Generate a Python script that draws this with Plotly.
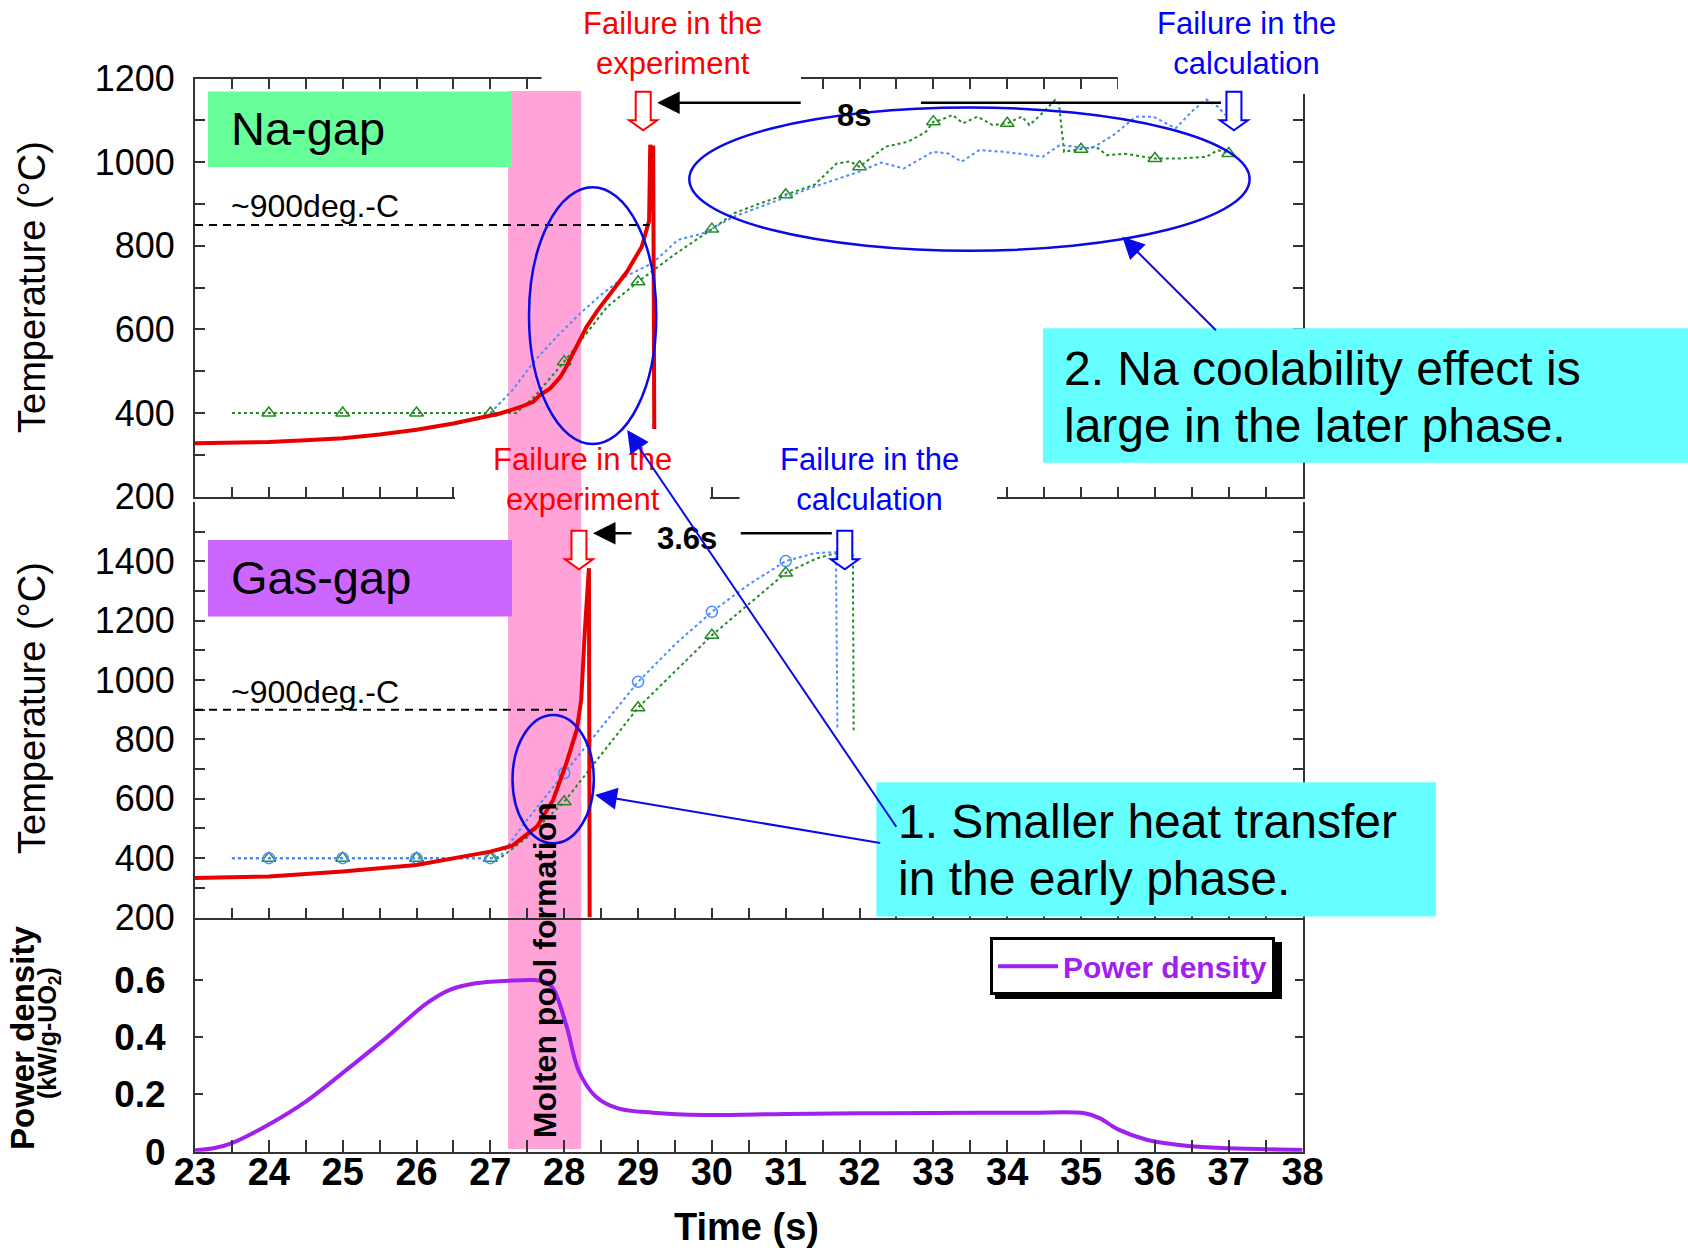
import plotly.graph_objects as go

W, H = 1688, 1250
FONT = "Liberation Sans"
AX = "#333333"

# ---------------- data ----------------
time_ticks = list(range(23, 39))
na_temp_ticks = [200, 400, 600, 800, 1000, 1200]
gas_temp_ticks = [200, 400, 600, 800, 1000, 1200, 1400]
power_ticks = [0, 0.2, 0.4, 0.6]
power_tick_text = ["0", "0.2", "0.4", "0.6"]

# Na-gap: measured temperature (experiment)
na_exp_t = [23.0, 23.5, 24.0, 24.5, 25.0, 25.5, 26.0, 26.5, 27.0, 27.13, 27.4, 27.58, 27.67,
            27.81, 27.95, 28.03, 28.12, 28.22, 28.3, 28.45, 28.65, 28.85, 29.05, 29.12, 29.15,
            29.165, 29.185, 29.205, 29.22]
na_exp_v = [328, 329, 331, 335, 340, 349, 360, 375, 395, 399, 414, 427, 443,
            459, 487, 511, 543, 575, 605, 645, 692, 738, 798, 840, 860,
            1042, 880, 1040, 362]

# Na-gap: calculation (green, triangles)
na_g_t = [23.5, 24.0, 25.0, 26.0, 27.0, 27.35, 27.6, 28.0, 28.3, 28.58, 29.0, 29.5, 30.0, 30.3,
          30.66, 31.0, 31.39, 31.69, 31.87, 32.0, 32.35, 32.66, 32.9, 33.0, 33.1, 33.26, 33.4,
          33.6, 33.8, 34.0, 34.2, 34.3, 34.45, 34.65, 34.7, 34.77, 35.0, 35.2, 35.35, 35.6,
          36.0, 36.35, 36.7, 36.85, 37.0]
na_g_v = [400, 400, 400, 400, 400, 400, 440, 523, 590, 654, 714, 780, 840, 878,
          902, 922, 946, 997, 1002, 989, 1037, 1049, 1073, 1097, 1101, 1113, 1093,
          1109, 1089, 1093, 1109, 1089, 1113, 1149, 1141, 1025, 1031, 1037, 1017, 1020,
          1009, 1009, 1013, 1029, 1021]
na_g_mark_t = [24, 25, 26, 27, 28, 29, 30, 31, 32, 33, 34, 35, 36, 37]
na_g_mark_v = [400, 400, 400, 400, 523, 714, 840, 922, 989, 1097, 1093, 1031, 1009, 1021]

# Na-gap: calculation (blue)
na_b_t = [27.0, 27.3, 27.61, 27.9, 28.22, 28.52, 28.82, 29.19, 29.54, 29.88, 30.3, 30.9, 31.38,
          31.99, 32.29, 32.6, 32.99, 33.2, 33.38, 33.62, 33.94, 34.18, 34.48, 34.71, 34.96,
          35.14, 35.44, 35.74, 35.98, 36.28, 36.52, 36.7, 36.85, 36.95]
na_b_v = [400, 455, 527, 583, 639, 686, 726, 758, 814, 830, 870, 910, 941,
          977, 999, 985, 1025, 1021, 1001, 1029, 1025, 1020, 1013, 1041, 1037,
          1033, 1065, 1109, 1109, 1081, 1125, 1150, 1133, 1113]

# Gas-gap: measured temperature (experiment)
gas_exp_t = [23.0, 24.0, 25.0, 26.0, 27.0, 27.3, 27.63, 27.85, 27.95, 28.03, 28.17, 28.23,
             28.28, 28.31, 28.335, 28.345]
gas_exp_v = [333, 338, 355, 377, 422, 442, 506, 596, 665, 720, 832, 933,
             1169, 1315, 1377, 200]

# Gas-gap: calculation (green, triangles)
gas_g_t = [23.5, 24, 25, 26, 27, 27.13, 27.5, 28, 29, 30, 31, 31.42, 31.64, 31.87, 31.91, 31.92]
gas_g_v = [400, 400, 400, 400, 400, 400, 470, 590, 907, 1151, 1361, 1410, 1425, 1431, 1420, 831]
gas_g_mark_t = [24, 25, 26, 27, 28, 29, 30, 31]
gas_g_mark_v = [400, 400, 400, 400, 590, 907, 1151, 1361]

# Gas-gap: calculation (blue, circles)
gas_b_t = [23.5, 24, 25, 26, 27, 27.13, 27.5, 28, 28.5, 29, 29.5, 30, 30.5, 31, 31.4, 31.68, 31.7]
gas_b_v = [400, 400, 400, 400, 400, 405, 530, 686, 840, 994, 1120, 1230, 1322, 1401, 1428, 1431, 831]
gas_b_mark_t = [24, 25, 26, 27, 28, 29, 30, 31]
gas_b_mark_v = [400, 400, 400, 400, 686, 994, 1230, 1401]

# Power density (kW/g-UO2)
power_t = [23.0, 23.25, 23.5, 24.0, 24.5, 25.0, 25.6, 26.15, 26.45, 26.8, 27.25, 27.6, 27.75,
           27.85, 28.03, 28.2, 28.43, 28.73, 29.2, 29.9, 31.0, 32.0, 33.0, 34.3, 35.05, 35.25,
           35.5, 35.9, 36.45, 37.0, 38.0]
power_v = [0.005, 0.012, 0.03, 0.095, 0.175, 0.275, 0.40, 0.52, 0.565, 0.588, 0.597, 0.599, 0.592,
           0.57, 0.44, 0.28, 0.192, 0.151, 0.136, 0.128, 0.132, 0.134, 0.135, 0.136, 0.134, 0.117,
           0.078, 0.041, 0.02, 0.012, 0.006]

# event times / levels
molten_pool = [27.24, 28.23]
na_fail_exp, na_fail_calc = 29.07, 37.07
gas_fail_exp, gas_fail_calc = 28.2, 31.8
na_threshold, na_threshold_span = 850, [23, 29.15]
gas_threshold, gas_threshold_span = 900, [23, 28.04]

# ---------------- layout helpers ----------------
def fx(px):
    return px / W


def fy(py):
    return 1 - py / H


X_DOM = [fx(195), fx(1302.6)]
Y1_DOM = [fy(496.7), fy(78.6)]
Y2_DOM = [fy(917.5), fy(502)]
Y3_DOM = [fy(1151.7), fy(917.5)]

RED = "#E60000"
GREEN = "#228B22"
BLUE_CALC = "#4A8CFF"
PURPLE = "#A020F0"
PINK = "#FFA3D9"
CALLOUT = "#0A0AE6"

fig = go.Figure()

# Na-gap traces
fig.add_trace(go.Scatter(x=na_g_t, y=na_g_v, mode="lines", xaxis="x", yaxis="y",
                         line=dict(color=GREEN, width=2, dash="dot"), showlegend=False))
fig.add_trace(go.Scatter(x=na_g_mark_t, y=na_g_mark_v, mode="markers", xaxis="x", yaxis="y",
                         marker=dict(symbol="triangle-up-open", size=12, color=GREEN,
                                     line=dict(width=1.5)), showlegend=False))
fig.add_trace(go.Scatter(x=na_b_t, y=na_b_v, mode="lines", xaxis="x", yaxis="y",
                         line=dict(color=BLUE_CALC, width=2, dash="dot"), showlegend=False))
fig.add_trace(go.Scatter(x=na_exp_t, y=na_exp_v, mode="lines", xaxis="x", yaxis="y",
                         line=dict(color=RED, width=4), showlegend=False))

# Gas-gap traces
fig.add_trace(go.Scatter(x=gas_g_t, y=gas_g_v, mode="lines", xaxis="x2", yaxis="y2",
                         line=dict(color=GREEN, width=2, dash="dot"), showlegend=False))
fig.add_trace(go.Scatter(x=gas_g_mark_t, y=gas_g_mark_v, mode="markers", xaxis="x2", yaxis="y2",
                         marker=dict(symbol="triangle-up-open", size=12, color=GREEN,
                                     line=dict(width=1.5)), showlegend=False))
fig.add_trace(go.Scatter(x=gas_b_t, y=gas_b_v, mode="lines", xaxis="x2", yaxis="y2",
                         line=dict(color=BLUE_CALC, width=2, dash="dot"), showlegend=False))
fig.add_trace(go.Scatter(x=gas_b_mark_t, y=gas_b_mark_v, mode="markers", xaxis="x2", yaxis="y2",
                         marker=dict(symbol="circle-open", size=11, color=BLUE_CALC,
                                     line=dict(width=1.5)), showlegend=False))
fig.add_trace(go.Scatter(x=gas_exp_t, y=gas_exp_v, mode="lines", xaxis="x2", yaxis="y2",
                         line=dict(color=RED, width=4), showlegend=False))

# Power density
fig.add_trace(go.Scatter(x=power_t, y=power_v, mode="lines", xaxis="x3", yaxis="y3",
                         name="Power density", line=dict(color=PURPLE, width=4, shape="spline"),
                         showlegend=True))

# ---------------- axes ----------------
tick_common = dict(ticks="inside", tickwidth=2, tickcolor=AX, showline=True, linecolor=AX,
                   linewidth=2, showgrid=False, zeroline=False, automargin=False)
x_minor = dict(tickmode="linear", tick0=23, dtick=0.5, ticks="inside", ticklen=10,
               tickwidth=2, tickcolor=AX, showgrid=False)
y_minor = dict(tickmode="linear", tick0=200, dtick=100, ticks="inside", ticklen=10,
               tickwidth=2, tickcolor=AX, showgrid=False)
temp_font = dict(family=FONT, size=36, color="black")

fig.update_layout(
    xaxis=dict(domain=X_DOM, anchor="y", range=[23, 38], tickvals=time_ticks, ticklen=10,
               mirror="ticks", showticklabels=False, minor=x_minor, **tick_common),
    yaxis=dict(domain=Y1_DOM, anchor="x", range=[200, 1200], tickvals=na_temp_ticks, ticklen=10,
               mirror="ticks", minor=y_minor, tickfont=temp_font, ticklabelstandoff=11,
               **tick_common),
    xaxis2=dict(domain=X_DOM, anchor="y2", range=[23, 38], tickvals=time_ticks, ticklen=10,
                mirror=False, showticklabels=False, minor=x_minor, **tick_common),
    yaxis2=dict(domain=Y2_DOM, anchor="x2", range=[200, 1600], tickvals=gas_temp_ticks,
                ticklen=10, mirror="ticks", minor=y_minor, tickfont=temp_font,
                ticklabelstandoff=11, **tick_common),
    xaxis3=dict(domain=X_DOM, anchor="y3", range=[23, 38], tickvals=time_ticks, ticklen=12,
                mirror=False, minor=dict(x_minor, ticklen=12),
                tickfont=dict(family=FONT, size=38, color="black", weight="bold"),
                ticklabelstandoff=-14, **tick_common),
    yaxis3=dict(domain=Y3_DOM, anchor="x3", range=[0, 0.8175], tickvals=power_ticks,
                ticktext=power_tick_text, ticklen=8, mirror="ticks",
                tickfont=dict(family=FONT, size=37, color="black", weight="bold"),
                ticklabelstandoff=20, **tick_common),
)

# ---------------- shapes ----------------
def rect(x0, y0, x1, y1, fill, layer="above", line=None):
    return dict(type="rect", xref="paper", yref="paper", x0=fx(x0), x1=fx(x1),
                y0=fy(y1), y1=fy(y0), fillcolor=fill, layer=layer,
                line=line if line else dict(width=0))


def ellipse(x0, y0, x1, y1):
    return dict(type="circle", xref="paper", yref="paper", x0=fx(x0), x1=fx(x1),
                y0=fy(y1), y1=fy(y0), line=dict(color=CALLOUT, width=2.5), layer="above")


def fail_arrow(t, top, color):
    shaft = top + 28.5
    tip = top + 38.5
    path = (f"M -7.5,{fy(top)} L 7.5,{fy(top)} L 7.5,{fy(shaft)} L 14,{fy(shaft)} "
            f"L 0,{fy(tip)} L -14,{fy(shaft)} L -7.5,{fy(shaft)} Z")
    return dict(type="path", xref="x", yref="paper", xsizemode="pixel", xanchor=t, path=path,
                line=dict(color=color, width=2), fillcolor="white", layer="above")


shapes = [
    # molten pool formation period
    dict(type="rect", xref="x", yref="paper", x0=molten_pool[0], x1=molten_pool[1],
         y0=fy(1149), y1=fy(91), fillcolor=PINK, line=dict(width=0), layer="below"),
    # white label backgrounds
    rect(541.5, 0, 801, 90, "white"),
    rect(1117.9, 0, W, 94, "white"),
    rect(455, 445, 710, 512, "white"),
    rect(739.5, 445, 997, 512, "white"),
    dict(type="rect", xref="x", yref="paper", x0=molten_pool[0], x1=molten_pool[1],
         y0=fy(512), y1=fy(445), fillcolor=PINK, line=dict(width=0), layer="above"),
    # panel labels and notes
    rect(208, 91.5, 512, 167, "#66FF99"),
    rect(208, 540, 512, 616.5, "#CC66FF"),
    rect(1043, 328.3, W, 462.7, "#66FFFF"),
    rect(876.4, 782.3, 1435.9, 916.5, "#66FFFF"),
    # threshold lines
    dict(type="line", xref="x", yref="y", x0=na_threshold_span[0], x1=na_threshold_span[1],
         y0=na_threshold, y1=na_threshold, line=dict(color="black", width=2, dash="8px,6px"),
         layer="above"),
    dict(type="line", xref="x2", yref="y2", x0=gas_threshold_span[0], x1=gas_threshold_span[1],
         y0=gas_threshold, y1=gas_threshold,
         line=dict(color="black", width=2, dash="8px,6px"), layer="above"),
    # highlighted regions
    ellipse(689.3, 107.5, 1249.6, 250.8),
    ellipse(529, 187.3, 656.3, 444),
    ellipse(512.5, 715, 593.8, 843.3),
    # failure markers
    fail_arrow(na_fail_exp, 91.7, "#FF0000"),
    fail_arrow(na_fail_calc, 91.7, "#0000FF"),
    fail_arrow(gas_fail_exp, 530.7, "#FF0000"),
    fail_arrow(gas_fail_calc, 530.7, "#0000FF"),
    # time-difference bars
    dict(type="line", xref="x", yref="paper", xsizemode="pixel", xanchor=na_fail_calc,
         x0=-313, x1=-13, y0=fy(102.7), y1=fy(102.7), line=dict(color="black", width=2.5),
         layer="above"),
    dict(type="line", xref="x", yref="paper", xsizemode="pixel", xanchor=gas_fail_calc,
         x0=-104, x1=-13, y0=fy(533.3), y1=fy(533.3), line=dict(color="black", width=2.5),
         layer="above"),
    # legend shadow
    rect(995, 942, 1282, 999, "black"),
]

# ---------------- annotations ----------------
def text(px, py, s, size, color="black", xanchor="center", angle=0, align="center"):
    return dict(x=fx(px), y=fy(py), xref="paper", yref="paper", text=s, showarrow=False,
                xanchor=xanchor, yanchor="middle", textangle=angle, align=align,
                font=dict(family=FONT, size=size, color=color))


def callout(tip, tail, color=CALLOUT, width=2, head=2.2):
    return dict(x=fx(tip[0]), y=fy(tip[1]), xref="paper", yref="paper", text="",
                showarrow=True, ax=tail[0] - tip[0], ay=tail[1] - tip[1], arrowhead=2,
                arrowsize=head, arrowwidth=width, arrowcolor=color, standoff=0)


annotations = [
    text(672.8, 43.6, "Failure in the<br>experiment", 31, "#FF0000"),
    text(1246.6, 43.6, "Failure in the<br>calculation", 31, "#0000FF"),
    text(582.4, 479.5, "Failure in the<br>experiment", 31, "#FF0000"),
    text(869.6, 479.5, "Failure in the<br>calculation", 31, "#0000FF"),
    text(853.5, 116, "<b>8s</b>", 31),
    text(686.7, 538.3, "<b>3.6s</b>", 31),
    text(229, 206, "~900deg.-C", 32, xanchor="left"),
    text(229, 692, "~900deg.-C", 32, xanchor="left"),
    text(229, 129, "Na-gap", 47, xanchor="left"),
    text(229, 578, "Gas-gap", 47, xanchor="left"),
    text(1062, 368, "2. Na coolability effect is", 48, xanchor="left"),
    text(1062, 425, "large in the later phase.", 48, xanchor="left"),
    text(896, 821, "1. Smaller heat transfer", 48, xanchor="left"),
    text(896, 878.5, "in the early phase.", 48, xanchor="left"),
    text(32, 287, "Temperature (°C)", 38, angle=-90),
    text(32, 708, "Temperature (°C)", 38, angle=-90),
    text(22, 1038, "<b>Power density</b>", 33, angle=-90),
    text(49, 1033, "<b>(kW/g-UO<sub>2</sub>)</b>", 25, angle=-90),
    text(746, 1227, "<b>Time (s)</b>", 38),
    dict(x=sum(molten_pool) / 2, y=fy(970.5), xref="x", yref="paper",
         text="<b>Molten pool formation</b>", showarrow=False, textangle=-90,
         xanchor="center", yanchor="middle",
         font=dict(family=FONT, size=32, color="black")),
    callout((1122.3, 236.7), (1217.4, 331.7)),
    callout((627.2, 430), (897.3, 828.3)),
    callout((595, 795), (881.7, 843.3)),
    dict(x=na_fail_exp, y=fy(102.7), xref="x", yref="paper", xshift=14, text="",
         showarrow=True, ax=145, ay=0, arrowhead=2, arrowsize=1.8, arrowwidth=2.5,
         arrowcolor="black", standoff=0),
    dict(x=gas_fail_exp, y=fy(533.3), xref="x", yref="paper", xshift=14, text="",
         showarrow=True, ax=40, ay=0, arrowhead=2, arrowsize=1.8, arrowwidth=2.5,
         arrowcolor="black", standoff=0),
]

fig.update_layout(
    width=W, height=H, autosize=False,
    margin=dict(l=0, r=0, t=0, b=0, pad=0, autoexpand=False),
    paper_bgcolor="white", plot_bgcolor="rgba(0,0,0,0)",
    shapes=shapes, annotations=annotations,
    showlegend=True,
    legend=dict(x=fx(990), y=fy(937.3), xanchor="left", yanchor="top", bgcolor="white",
                bordercolor="black", borderwidth=3, itemwidth=60,
                font=dict(family=FONT, size=30, color=PURPLE, weight="bold")),
)

fig.write_html("out.html")
